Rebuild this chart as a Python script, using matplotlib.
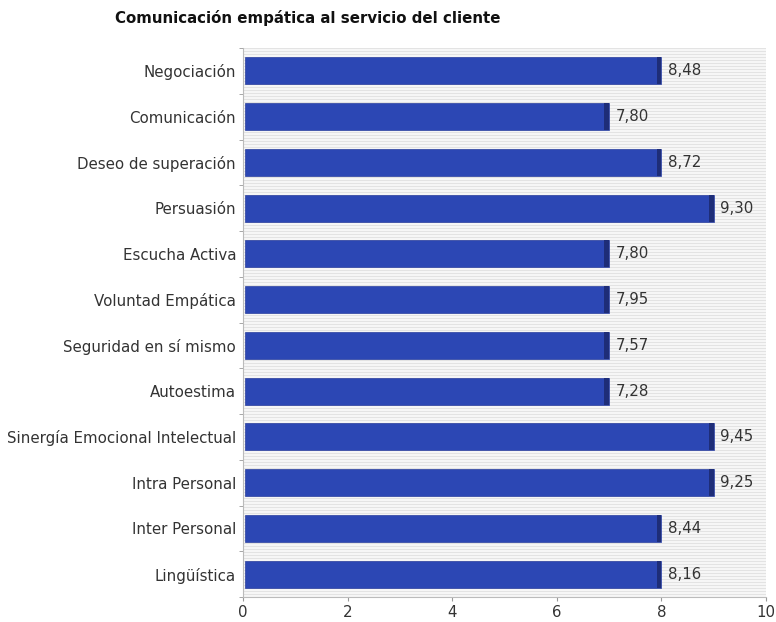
import numpy as np
import matplotlib
matplotlib.use('Agg')
import matplotlib.pyplot as plt
from matplotlib.colors import ListedColormap

categories = ['Negociación', 'Comunicación', 'Deseo de superación', 'Persuasión',
              'Escucha Activa', 'Voluntad Empática', 'Seguridad en sí mismo',
              'Autoestima', 'Sinergía Emocional Intelectual', 'Intra Personal',
              'Inter Personal', 'Lingüística']
values = [8.48, 7.80, 8.72, 9.30, 7.80, 7.95, 7.57, 7.28, 9.45, 9.25, 8.44, 8.16]
labels = ['8,48', '7,80', '8,72', '9,30', '7,80', '7,95', '7,57', '7,28',
          '9,45', '9,25', '8,44', '8,16']

fig = plt.figure(figsize=(7.76, 6.22), dpi=100)
ax = fig.add_axes([243/776, 1-597/622, (766-243)/776, (597-48)/622])

n = len(categories)
y = np.arange(n)[::-1]
bars = np.floor(values)

# striped background
stripes = np.tile([0, 1], 183).reshape(-1, 1)
ax.imshow(stripes, cmap=ListedColormap(['#e3e3e3', '#f6f6f6']), aspect='auto',
          extent=(0, 10, -0.5, n - 0.5), interpolation='nearest', zorder=0)

h = 0.59
ax.barh(y, bars - 0.03, height=h, left=0.03, color='#2c47b4', edgecolor='#2a3f9e',
        linewidth=0.5, zorder=2)
ax.barh(y, np.full(n, 0.09), left=bars - 0.09, height=h, color='#1e2d78',
        linewidth=0, zorder=3)
for yi, b, lab in zip(y, bars, labels):
    ax.text(b + 0.12, yi, lab, va='center', ha='left', fontsize=10.8, color='#333333')

ax.set_xlim(0, 10)
ax.set_ylim(-0.5, n - 0.5)
ax.set_xticks(range(0, 11, 2))
ax.set_yticks(y)
ax.set_yticklabels(categories, fontsize=10.8, color='#333333')
ax.set_yticks(np.arange(-0.5, n, 1), minor=True)
ax.tick_params(axis='y', which='major', length=0, pad=5)
ax.tick_params(axis='y', which='minor', length=3, color='#999999')
ax.tick_params(axis='x', length=3, color='#999999', labelsize=10.8,
               labelcolor='#333333', pad=3)
for s in ['top', 'right']:
    ax.spines[s].set_visible(False)
for s in ['left', 'bottom']:
    ax.spines[s].set_color('#bbbbbb')

fig.text(115/776, 1-18/622, 'Comunicación empática al servicio del cliente',
         fontsize=10.8, fontweight='bold', ha='left', va='center', color='#111111')

plt.savefig('out.png', dpi=100)
